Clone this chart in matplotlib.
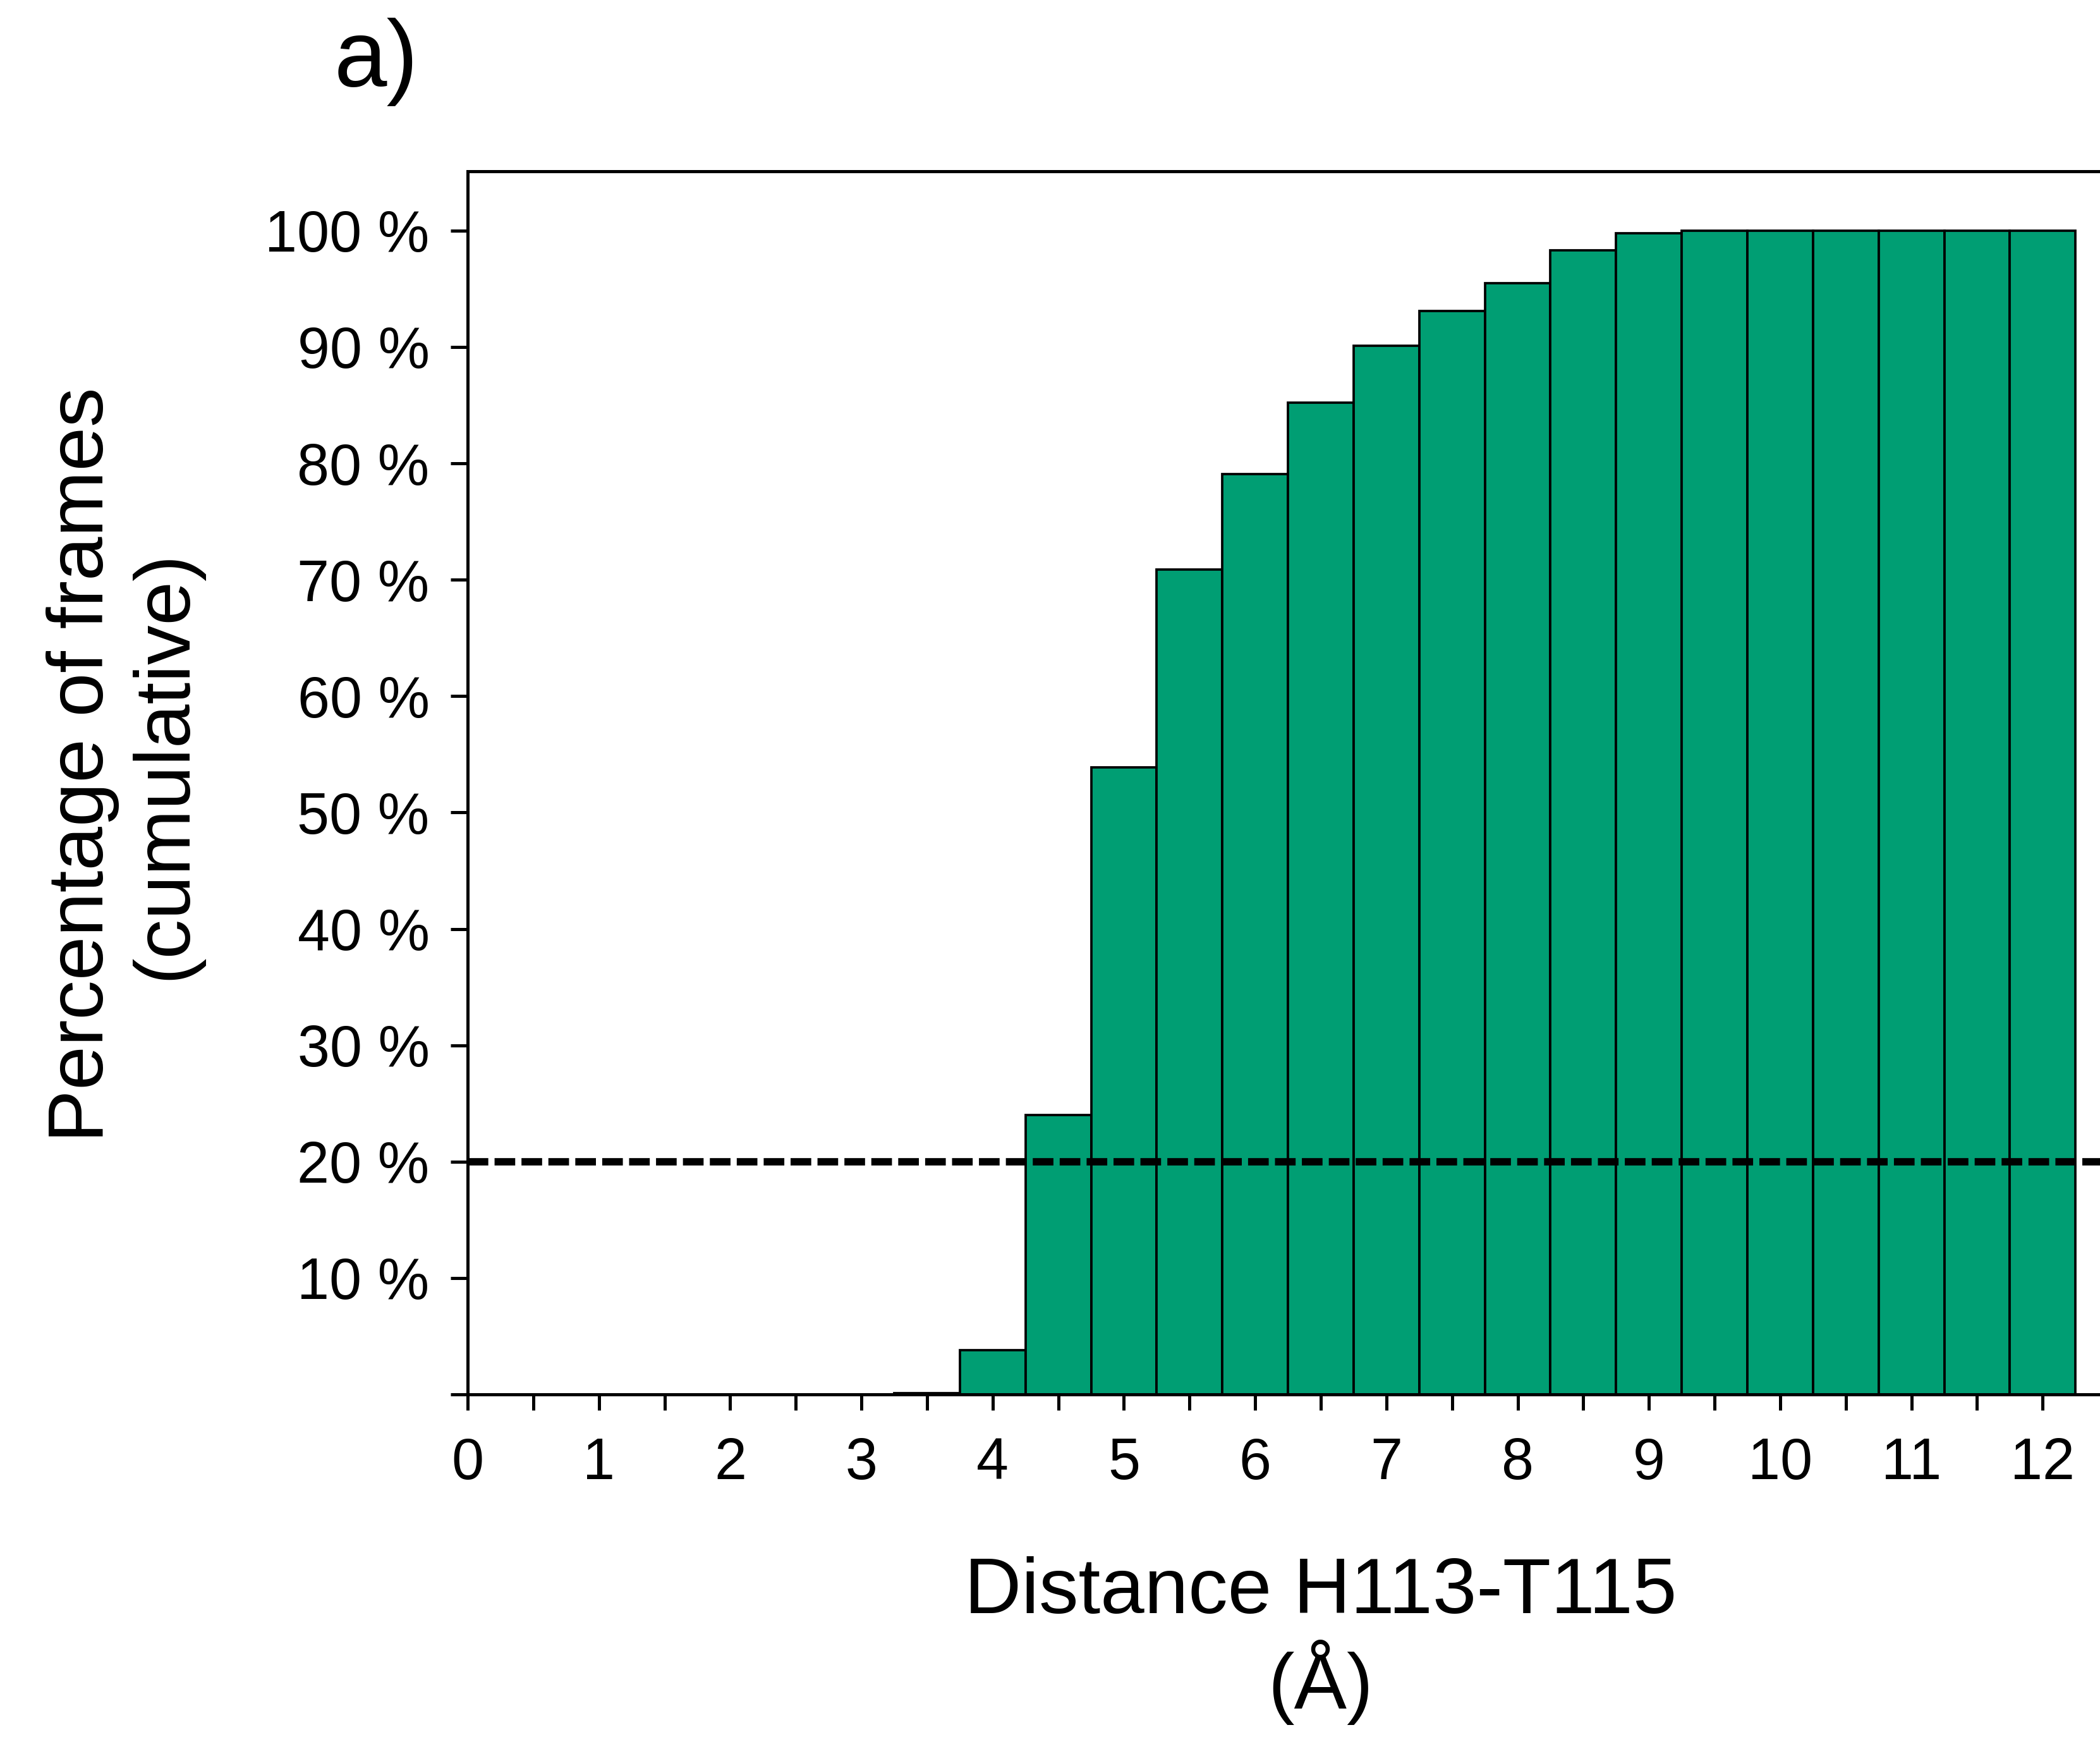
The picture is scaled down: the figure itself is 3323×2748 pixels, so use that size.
import numpy as np
import matplotlib
matplotlib.use("Agg")
import matplotlib.pyplot as plt

plt.rcParams['font.family'] = ['Liberation Sans', 'DejaVu Sans']

# bin centres (Angstrom) and cumulative percentage of frames
distance = [0.0, 0.5, 1.0, 1.5, 2.0, 2.5, 3.0, 3.5, 4.0, 4.5, 5.0, 5.5, 6.0,
            6.5, 7.0, 7.5, 8.0, 8.5, 9.0, 9.5, 10.0, 10.5, 11.0, 11.5, 12.0]
cumulative = [0, 0, 0, 0, 0, 0, 0, 0.1, 3.8, 24.0, 53.9, 70.9, 79.1,
              85.2, 90.1, 93.1, 95.5, 98.3, 99.8, 100, 100, 100, 100, 100, 100]
threshold = 20
yticks = [0, 10, 20, 30, 40, 50, 60, 70, 80, 90, 100]
xticks_major = [0, 1, 2, 3, 4, 5, 6, 7, 8, 9, 10, 11, 12]

fig = plt.figure(figsize=(3323 / 300, 2748 / 300), dpi=300)
ax = fig.add_axes([0.2227, 0.1972, 0.8125, 0.7042])

ax.bar(distance, cumulative, width=0.5, color='#009E73', edgecolor='black',
       linewidth=0.9, zorder=2)
ax.axhline(threshold, color='black', linewidth=2.8, dashes=(2.8, 0.85), zorder=3)

ax.set_xlim(0, 13)
ax.set_ylim(0, 105.1)

ax.set_xticks(xticks_major)
ax.set_xticks(np.arange(0.5, 12.6, 1.0), minor=True)
ax.set_xticklabels([str(v) for v in xticks_major])
ax.set_yticks(yticks)
ax.set_yticklabels(['' if v == 0 else f'{v} %' for v in yticks])

for s in ['left', 'bottom', 'top']:
    ax.spines[s].set_linewidth(1.2)
ax.spines['right'].set_visible(False)

ax.tick_params(axis='both', which='both', direction='out', width=1.2,
               labelsize=22)
ax.tick_params(axis='x', which='both', length=6.0, pad=10)
ax.tick_params(axis='y', length=6.5, pad=8)

ax.set_xlabel('Distance H113-T115\n(Å)', fontsize=30, linespacing=1.15)
ax.xaxis.set_label_coords(0.5, -0.132)
ax.set_ylabel('Percentage of frames\n(cumulative)', fontsize=30, linespacing=1.15)
ax.yaxis.set_label_coords(-0.156, 0.515)

fig.text(0.159, 0.950, 'a)', fontsize=36, va='baseline', ha='left')

fig.savefig('out.png', dpi=300)
